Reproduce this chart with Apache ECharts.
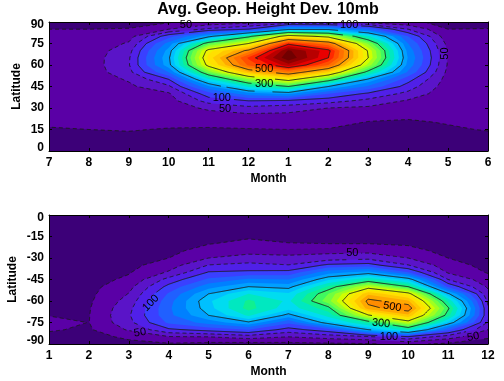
<!DOCTYPE html>
<html>
<head>
<meta charset="utf-8">
<style>
  html, body { margin: 0; padding: 0; background: #fff; }
  #chart { width: 504px; height: 381px; }
</style>
<script src="https://cdn.jsdelivr.net/npm/echarts@6/dist/echarts.min.js"></script>
</head>
<body>
<div id="chart"></div>
<script>
const northMonths = ['7', '8', '9', '10', '11', '12', '1', '2', '3', '4', '5', '6']
const southMonths = ['1', '2', '3', '4', '5', '6', '7', '8', '9', '10', '11', '12']
const northLats = [90, 85, 80, 75, 70, 65, 60, 55, 50, 45, 40, 35, 30, 25, 20, 15, 10, 5, 0]
const southLats = [0, -5, -10, -15, -20, -25, -30, -35, -40, -45, -50, -55, -60, -65, -70, -75, -80, -85, -90]

// one row per month, values run along northLats
const northHeights = [
  [15, 25, 27, 28, 29, 30, 30, 30, 30, 30, 30, 30, 29, 28, 27, 24, 20, 15, 12],
  [17, 25, 29, 32, 34, 36, 36, 35, 34, 33, 32, 31, 30, 28, 27, 25, 21, 16, 13],
  [18, 26, 40, 53, 66, 72, 73, 68, 53, 45, 40, 36, 33, 30, 28, 26, 22, 17, 14],
  [22, 50, 115, 160, 185, 195, 190, 150, 100, 70, 47, 40, 36, 32, 29, 24, 21, 17, 14],
  [30, 80, 190, 320, 415, 435, 415, 335, 245, 170, 115, 85, 55, 40, 30, 23, 20, 17, 14],
  [40, 100, 290, 400, 510, 580, 555, 470, 350, 255, 165, 100, 68, 45, 32, 24, 20, 17, 14],
  [50, 190, 430, 590, 680, 695, 640, 530, 420, 300, 180, 95, 62, 44, 32, 25, 20, 17, 14],
  [45, 190, 385, 530, 610, 600, 550, 450, 325, 200, 125, 85, 50, 42, 32, 24, 20, 17, 14],
  [40, 140, 255, 345, 395, 400, 365, 285, 195, 145, 95, 68, 45, 32, 24, 20, 18, 15, 13],
  [30, 75, 125, 150, 165, 172, 165, 145, 110, 88, 68, 47, 36, 28, 23, 19, 17, 14, 12],
  [18, 25, 33, 42, 47, 48, 47, 43, 39, 36, 33, 31, 29, 27, 26, 23, 20, 16, 13],
  [15, 26, 30, 33, 35, 36, 36, 35, 34, 33, 32, 31, 30, 28, 27, 26, 21, 16, 12]
]

// one row per month, values run along southLats
const southHeights = [
  [3, 4, 5, 6, 7, 8, 9, 10, 11, 12, 13, 15, 17, 20, 24, 35, 27, 20, 15],
  [3, 4, 5, 6, 7, 8, 9, 11, 13, 15, 17, 19, 21, 23, 24, 24.5, 22, 16, 12],
  [3, 4, 5, 7, 9, 11, 14, 18, 23, 30, 42, 51, 60, 68, 72, 68, 53, 30, 18],
  [3, 5, 7, 9, 13, 18, 25, 38, 53, 84, 108, 128, 140, 145, 143, 130, 95, 48, 22],
  [3, 6, 10, 16, 24, 36, 50, 76, 102, 130, 165, 200, 220, 215, 200, 160, 110, 50, 18],
  [3, 7, 13, 22, 31, 43, 58, 83, 105, 155, 200, 250, 280, 285, 255, 195, 125, 62, 15],
  [3, 6, 11, 18, 26, 42, 55, 76, 108, 150, 190, 230, 245, 235, 190, 130, 90, 50, 18],
  [3, 6, 10, 17, 25, 42, 62, 105, 165, 220, 280, 325, 340, 290, 260, 215, 115, 60, 20],
  [3, 6, 11, 18, 25, 42, 68, 110, 185, 270, 380, 470, 510, 490, 395, 280, 200, 70, 22],
  [3, 6, 10, 16, 22, 33, 50, 76, 125, 215, 300, 415, 480, 520, 470, 380, 265, 95, 30],
  [3, 5, 7, 10, 14, 18, 25, 36, 47, 75, 120, 205, 270, 305, 285, 220, 130, 62, 20],
  [3, 4, 5, 6, 8, 10, 13, 17, 23, 35, 46, 58, 70, 78, 80, 72, 50, 28, 15]
]

// lower edge of each filled band, colour of that band
const bandLevels = [0, 25, 50, 75, 100, 125, 150, 175, 200, 225, 250, 275, 300, 325, 350, 375, 400, 425, 450, 475, 500, 525, 550, 575, 600, 625, 650, 675]
const bandColors = ['#3c0078', '#5a00a6', '#5a14c8', '#5020e8', '#3a40ff', '#2060ff', '#0080ff', '#00a0ff', '#00c0ff', '#00dcf0', '#00e8c0', '#10f090', '#40f860', '#70ff40', '#a0ff20', '#d0ff00', '#f0f000', '#ffe000', '#ffc800', '#ffa800', '#ff8c00', '#ff7000', '#ff5000', '#ff2800', '#e80000', '#b80000', '#900000', '#700000']
const lineLevels = [25, 50, 75, 100, 200, 300, 400, 500, 600]

// [month index, latitude, text, rotation in degrees]
const northLabels = [
  [3.43, 88, '50', 0], [7.52, 88, '100', 0], [9.92, 68, '50', 90],
  [4.33, 37, '100', 0], [4.41, 29, '50', 0], [5.39, 57, '500', 0], [5.39, 47, '300', 0]
]
const southLabels = [
  [2.55, -61.4, '100', 45], [2.28, -82, '50', 8], [7.6, -26.7, '50', 0], [8.6, -64, '500', -10],
  [8.32, -75.6, '300', -5], [8.52, -85, '100', 0], [10.63, -85, '50', 10]
]

const font = 'Liberation Sans'

// part of one grid cell at or above the level, in month/latitude values
function clipCell (values, lats, i, j, level) {
  const corners = [[i, j], [i + 1, j], [i + 1, j + 1], [i, j + 1]]
  const out = []
  corners.forEach((a, k) => {
    const b = corners[(k + 1) % 4]
    const va = values[a[0]][a[1]]
    const vb = values[b[0]][b[1]]
    if (va >= level) out.push([a[0], lats[a[1]]])
    if ((va >= level) !== (vb >= level)) {
      const t = (level - va) / (vb - va)
      out.push([a[0] + (b[0] - a[0]) * t, lats[a[1]] + (lats[b[1]] - lats[a[1]]) * t])
    }
  })
  return out
}

// marching squares, segments chained so the dashes run on across cells
function contourPaths (values, lats, level) {
  const segs = []
  for (let i = 0; i < values.length - 1; i++) {
    for (let j = 0; j < lats.length - 1; j++) {
      const corners = [[i, j], [i + 1, j], [i + 1, j + 1], [i, j + 1]]
      const hits = []
      corners.forEach((a, k) => {
        const b = corners[(k + 1) % 4]
        const va = values[a[0]][a[1]]
        const vb = values[b[0]][b[1]]
        if ((va >= level) !== (vb >= level)) {
          const t = (level - va) / (vb - va)
          hits.push({
            key: [a.join(), b.join()].sort().join('|'),
            pt: [a[0] + (b[0] - a[0]) * t, lats[a[1]] + (lats[b[1]] - lats[a[1]]) * t]
          })
        }
      })
      for (let h = 0; h + 1 < hits.length; h += 2) segs.push([hits[h], hits[h + 1]])
    }
  }
  const used = segs.map(() => false)
  const paths = []
  const grow = (path, key) => {
    let found = true
    while (found) {
      found = false
      for (let s = 0; s < segs.length; s++) {
        if (used[s]) continue
        const next = segs[s][0].key === key ? segs[s][1] : segs[s][1].key === key ? segs[s][0] : null
        if (next) {
          used[s] = true
          path.push(next.pt)
          key = next.key
          found = true
          break
        }
      }
    }
  }
  segs.forEach((seg, s) => {
    if (used[s]) return
    used[s] = true
    const forward = [seg[0].pt, seg[1].pt]
    grow(forward, seg[1].key)
    const back = [seg[0].pt]
    grow(back, seg[0].key)
    paths.push(back.reverse().slice(0, -1).concat(forward))
  })
  return paths
}

// break a pixel polyline where a contour label sits on it
function cutAtLabels (pts, holes) {
  const runs = []
  let run = []
  for (let k = 0; k + 1 < pts.length; k++) {
    const a = pts[k]
    const b = pts[k + 1]
    const n = Math.max(1, Math.ceil(Math.hypot(b[0] - a[0], b[1] - a[1])))
    for (let s = 0; s <= n; s++) {
      const p = [a[0] + (b[0] - a[0]) * s / n, a[1] + (b[1] - a[1]) * s / n]
      if (holes.some(h => Math.hypot(p[0] - h[0], p[1] - h[1]) < h[2])) {
        if (run.length > 1) runs.push(run)
        run = []
      } else {
        run.push(p)
      }
    }
  }
  if (run.length > 1) runs.push(run)
  return runs
}

function panelSeries (values, lats, labels, axisIndex) {
  const axes = { xAxisIndex: axisIndex, yAxisIndex: axisIndex, coordinateSystem: 'cartesian2d', silent: true, clip: true }
  const paths = []
  lineLevels.forEach(level => {
    contourPaths(values, lats, level).forEach(points => paths.push({ level, points }))
  })
  return [
    {
      ...axes,
      type: 'custom',
      z: 2,
      data: bandLevels.map((l, i) => [i]),
      renderItem (params, api) {
        const level = bandLevels[params.dataIndex]
        let pathData = ''
        for (let i = 0; i < values.length - 1; i++) {
          for (let j = 0; j < lats.length - 1; j++) {
            const poly = clipCell(values, lats, i, j, level)
            if (poly.length > 2) {
              pathData += 'M' + poly.map(p => api.coord(p).map(n => n.toFixed(2)).join(' ')).join('L') + 'Z'
            }
          }
        }
        return {
          type: 'path',
          shape: { pathData },
          style: { fill: bandColors[params.dataIndex] }
        }
      }
    },
    {
      ...axes,
      type: 'custom',
      z: 3,
      data: paths.map((p, i) => [i]),
      renderItem (params, api) {
        const path = paths[params.dataIndex]
        const holes = labels.map(l => {
          const c = api.coord([l[0], l[1]])
          return [c[0], c[1], l[2].length * 3.4 + 1.5]
        })
        const runs = cutAtLabels(path.points.map(p => api.coord(p)), holes)
        return {
          type: 'group',
          children: runs.map(points => ({
            type: 'polyline',
            shape: { points },
            style: {
              fill: 'none',
              stroke: '#1a1a1a',
              lineWidth: 0.9,
              lineDash: path.level < 100 ? [4, 3] : null
            }
          }))
        }
      }
    },
    {
      ...axes,
      type: 'custom',
      z: 4,
      clip: false,
      data: labels.map((l, i) => [i]),
      renderItem (params, api) {
        const l = labels[params.dataIndex]
        const c = api.coord([l[0], l[1]])
        return {
          type: 'text',
          x: c[0],
          y: c[1],
          rotation: l[3] * Math.PI / 180,
          style: {
            text: l[2],
            fontFamily: font,
            fontSize: 11,
            fill: '#000',
            align: 'center',
            verticalAlign: 'middle'
          }
        }
      }
    }
  ]
}

function xAxes (months, gridIndex) {
  const base = {
    type: 'value',
    gridIndex,
    min: 0,
    max: 11,
    interval: 1,
    z: 10,
    splitLine: { show: false },
    axisLine: { show: true, onZero: false, lineStyle: { color: '#000', width: 1 } },
    axisTick: { show: true, inside: true, length: 3, lineStyle: { color: '#000' } }
  }
  return [
    {
      ...base,
      position: 'bottom',
      name: 'Month',
      nameLocation: 'middle',
      nameGap: 22,
      nameTextStyle: { fontFamily: font, fontWeight: 'bold', fontSize: 12, color: '#000' },
      axisLabel: { fontFamily: font, fontWeight: 'bold', fontSize: 12, color: '#000', margin: 6, formatter: v => months[v] }
    },
    { ...base, position: 'top', axisLabel: { show: false } }
  ]
}

function yAxes (min, max, gridIndex, nameGap) {
  const base = {
    type: 'value',
    gridIndex,
    min,
    max,
    interval: 15,
    z: 10,
    splitLine: { show: false },
    axisLine: { show: true, onZero: false, lineStyle: { color: '#000', width: 1 } },
    axisTick: { show: true, inside: true, length: 3, lineStyle: { color: '#000' } }
  }
  return [
    {
      ...base,
      position: 'left',
      name: 'Latitude',
      nameLocation: 'middle',
      nameGap,
      nameMoveOverlap: false,
      nameTextStyle: { fontFamily: font, fontWeight: 'bold', fontSize: 12, color: '#000' },
      axisLabel: {
        fontFamily: font,
        fontWeight: 'bold',
        fontSize: 12,
        color: '#000',
        margin: 5,
        lineHeight: 6,
        verticalAlignMinLabel: 'bottom',
        verticalAlignMaxLabel: 'top'
      }
    },
    { ...base, position: 'right', axisLabel: { show: false } }
  ]
}

const chart = echarts.init(document.getElementById('chart'), null, { renderer: 'canvas' })
chart.setOption({
  animation: false,
  backgroundColor: '#fff',
  title: {
    text: 'Avg. Geop. Height Dev. 10mb',
    left: 268,
    top: 2,
    padding: 0,
    textAlign: 'center',
    textStyle: { fontFamily: font, fontWeight: 'bold', fontSize: 16, color: '#000' }
  },
  grid: [
    { left: 49, right: 16, top: 22, height: 129, outerBoundsMode: 'none' },
    { left: 49, right: 16, top: 215, height: 129, outerBoundsMode: 'none' }
  ],
  xAxis: [...xAxes(northMonths, 0), ...xAxes(southMonths, 1)],
  yAxis: [...yAxes(0, 90, 0, 26), ...yAxes(-90, 0, 1, 30)],
  series: [
    ...panelSeries(northHeights, northLats, northLabels, 0),
    ...panelSeries(southHeights, southLats, southLabels, 2)
  ]
})
</script>
</body>
</html>
